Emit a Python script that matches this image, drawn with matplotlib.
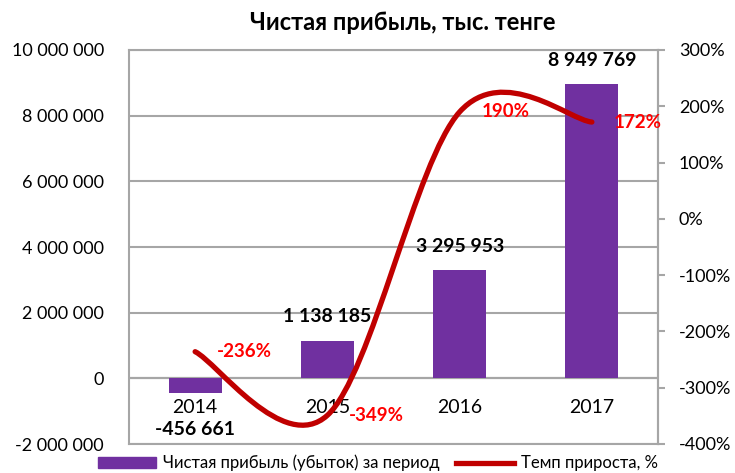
import matplotlib.pyplot as plt
from matplotlib.path import Path
from matplotlib.patches import PathPatch, Patch
from matplotlib.lines import Line2D
from matplotlib.ticker import FuncFormatter

years = ['2014', '2015', '2016', '2017']
profit = [-456661, 1138185, 3295953, 8949769]
growth = [-236, -349, 190, 172]

bar_color = '#7030A0'
line_color = '#C00000'
grid_color = '#A6A6A6'

plt.rcParams['font.family'] = ['Lato', 'DejaVu Sans']

fig = plt.figure(figsize=(7.35, 4.73), dpi=100)
ax = fig.add_axes([129 / 735, 1 - 444 / 473, 529 / 735, 394 / 473])
x = list(range(len(years)))
ax.bar(x, profit, width=0.4, color=bar_color, zorder=2)
ax.set_xlim(-0.5, 3.5)
ax.set_ylim(-2e6, 10e6)
ax.set_yticks(range(-2000000, 10000001, 2000000))
ax.yaxis.set_major_formatter(FuncFormatter(lambda v, p: f'{int(v):,}'.replace(',', ' ')))
ax.set_xticks([])
ax.grid(axis='y', color=grid_color, lw=1.5, zorder=0)
ax.axhline(0, color='#868686', lw=1.5, zorder=1)
ax.tick_params(axis='y', length=0, pad=18, labelsize=13)
for s in ax.spines.values():
    s.set_color(grid_color)
    s.set_linewidth(1.5)

# category labels sit next to the zero line
for i, yr in zip(x, years):
    ax.annotate(yr, (i, 0), xytext=(0, -29), textcoords='offset pixels',
                ha='center', va='center', fontsize=14)

# bar value labels
for i, v in zip(x, profit):
    off = 24 if v >= 0 else -36
    ax.annotate(f'{v:,}'.replace(',', ' '), (i, v), xytext=(0, off), textcoords='offset pixels',
                ha='center', va='center', fontsize=14, fontweight='bold')

ax2 = ax.twinx()
ax2.set_ylim(-400, 300)
ax2.set_yticks(range(-400, 301, 100))
ax2.yaxis.set_major_formatter(FuncFormatter(lambda v, p: f'{int(v)}%'))
ax2.tick_params(axis='y', direction='out', length=5, width=1.5, color=grid_color, pad=10, labelsize=13)
for s in ax2.spines.values():
    s.set_visible(False)
ax2.spines['right'].set_visible(True)
ax2.spines['right'].set_color(grid_color)
ax2.spines['right'].set_linewidth(1.5)

# smoothed line (Excel-style bezier)
pts = list(zip(x, growth))
verts = [pts[0]]
codes = [Path.MOVETO]
for i in range(len(pts) - 1):
    p0 = pts[max(i - 1, 0)]
    p1 = pts[i]
    p2 = pts[i + 1]
    p3 = pts[min(i + 2, len(pts) - 1)]
    c1 = (p1[0] + (p2[0] - p0[0]) / 6, p1[1] + (p2[1] - p0[1]) / 6)
    c2 = (p2[0] - (p3[0] - p1[0]) / 6, p2[1] - (p3[1] - p1[1]) / 6)
    verts += [c1, c2, p2]
    codes += [Path.CURVE4] * 3
ax2.add_patch(PathPatch(Path(verts, codes), fill=False, edgecolor=line_color,
                        lw=3.8, capstyle='round', zorder=3))

for i, g in zip(x, growth):
    ax2.annotate(f'{g}%', (i, g), xytext=(22, 0), textcoords='offset pixels',
                 ha='left', va='center', color='#FF0000', fontsize=13.5, fontweight='bold')

fig.text(403 / 735, 1 - 22 / 473, 'Чистая прибыль, тыс. тенге', ha='center', va='center',
         fontsize=17, fontweight='bold')

handles = [Patch(color=bar_color, label='Чистая прибыль (убыток) за период'),
           Line2D([], [], color=line_color, lw=3.8, label='Темп прироста, %')]
fig.legend(handles=handles, loc='center', bbox_to_anchor=(378 / 735, 1 - 463 / 473), ncol=2,
           frameon=False, fontsize=12, handlelength=3.5, handleheight=0.6, columnspacing=1.0,
           handletextpad=0.4, borderpad=0)

fig.savefig('out.png', dpi=100)
